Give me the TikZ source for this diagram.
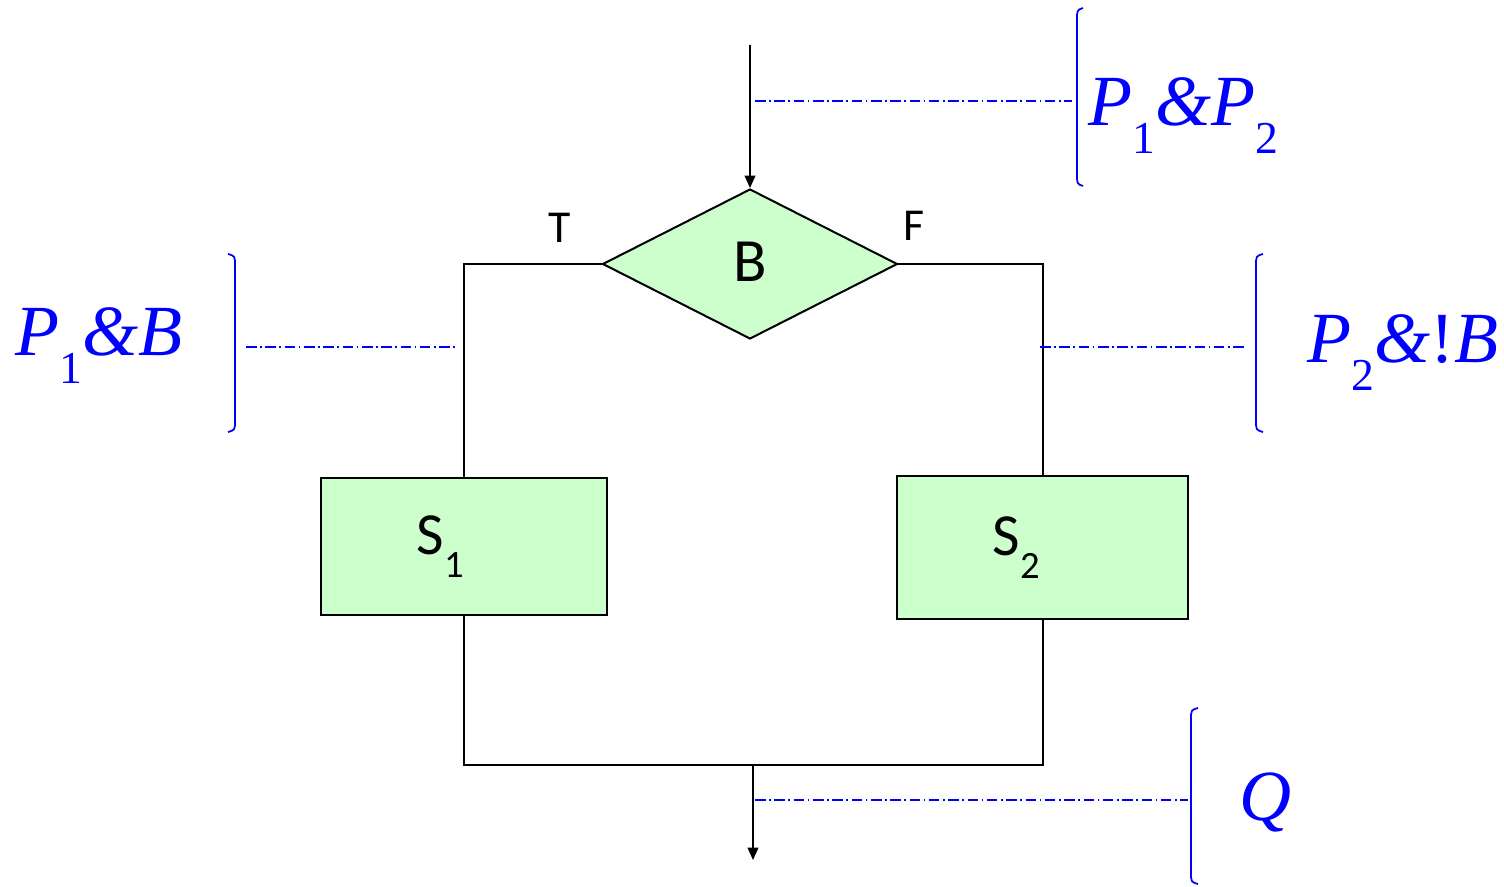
\documentclass[tikz,border=0pt]{standalone}
\usepackage{fontspec}
\setmainfont{Carlito}
\newfontfamily\lblfont{Liberation Serif}
\usetikzlibrary{shapes.geometric,arrows.meta}
\definecolor{boxgreen}{RGB}{204,255,204}
\definecolor{annblue}{RGB}{0,0,255}
\newcommand{\Sb}[1]{\raisebox{-13.5pt}{\fontsize{22}{26}\selectfont #1}}
\newcommand{\Pb}[1]{\raisebox{-16pt}{\fontsize{26}{30}\selectfont\upshape #1}}
\begin{document}
\begin{tikzpicture}[x=0.02cm,y=-0.02cm,
  flow/.style={draw=black,line width=1.15pt},
  arr/.style={flow,-{Triangle[length=7pt,width=6pt]}},
  blockbox/.style={draw=black,line width=1.15pt,fill=boxgreen,inner sep=0pt,font=\fontsize{34}{40}\selectfont},
  decision/.style={diamond,draw=black,line width=1.15pt,fill=boxgreen,inner sep=0pt,minimum width=5.9cm,minimum height=3.0cm,font=\fontsize{35}{40}\selectfont},
  tflabel/.style={font=\fontsize{26}{30}\selectfont,inner sep=0pt},
  guide/.style={draw=annblue,line width=0.6pt,dash pattern=on 6pt off 2pt on 1pt off 2pt},
  brk/.style={draw=annblue,line width=1pt},
  ann/.style={text=annblue,inner sep=0pt,font=\lblfont\itshape\fontsize{41}{48}\selectfont}
]
\useasboundingbox (0,0) rectangle (1504,886);

% flowchart
\node[decision] (d) at (750,264) {\raisebox{2.5pt}{B}};
\node[blockbox,minimum width=5.72cm,minimum height=2.74cm] (s1) at (464,546.5) {S\Sb{1}\hspace*{27pt}};
\node[blockbox,minimum width=5.82cm,minimum height=2.86cm] (s2) at (1042.5,547.5) {S\Sb{2}\hspace*{30pt}};
\coordinate (in) at (750,45);
\coordinate (m) at (753,765);
\coordinate (out) at (753,860);

\draw[arr] (in) -- (d.north);
\draw[flow] (d.west) -| (s1.north);
\draw[flow] (d.east) -| (s2.north);
\draw[flow] (s1.south) |- (m) -| (s2.south);
\draw[arr] (m) -- (out);

\node[tflabel] (t) at (560,228) {T};
\node[tflabel] (f) at (914,226) {F};

% annotations: dash-dot guides
\coordinate (g1a) at (755,101);  \coordinate (g1b) at (1072,101);
\coordinate (g2a) at (246,347);  \coordinate (g2b) at (455,347);
\coordinate (g3a) at (1040,347); \coordinate (g3b) at (1245,347);
\coordinate (g4a) at (755,800);  \coordinate (g4b) at (1188,800);
\draw[guide] (g1a) -- (g1b);
\draw[guide] (g2a) -- (g2b);
\draw[guide] (g3a) -- (g3b);
\draw[guide] (g4a) -- (g4b);

% brackets
\draw[brk] (1083,8) .. controls (1077,10) .. (1077,20) -- (1077,174) .. controls (1077,184) .. (1083,186);
\draw[brk] (228,254) .. controls (235,256) .. (235,266) -- (235,420) .. controls (235,430) .. (228,432);
\draw[brk] (1263,254) .. controls (1256,256) .. (1256,266) -- (1256,420) .. controls (1256,430) .. (1263,432);
\draw[brk] (1198,708) .. controls (1191,710) .. (1191,720) -- (1191,872) .. controls (1191,882) .. (1198,884);

% labels
\node[ann,anchor=base west] (a1) at (1088,125) {P\Pb{1}\&P\Pb{2}};
\node[ann,anchor=base west] (a2) at (15,355) {P\Pb{1}\&B};
\node[ann,anchor=base west] (a3) at (1307,362) {P\Pb{2}\&{\upshape !}B};
\node[ann,anchor=base west] (a4) at (1239,820) {Q};
\end{tikzpicture}
\end{document}
